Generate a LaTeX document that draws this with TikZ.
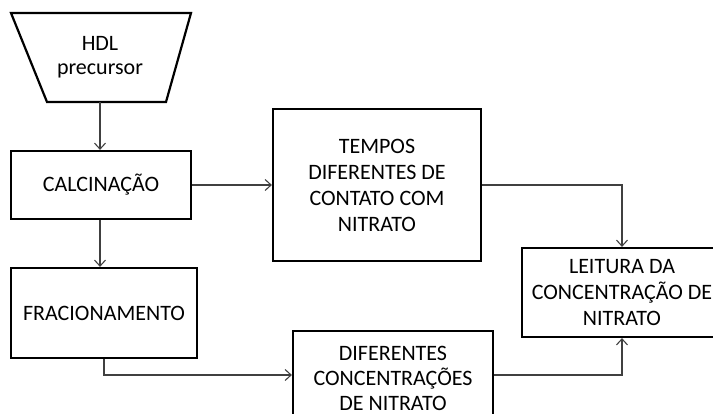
\documentclass[tikz,border=0pt]{standalone}
\usepackage{fontspec}
\setmainfont{Carlito}
\usetikzlibrary{arrows.meta}
\definecolor{conn}{HTML}{404040}
\tikzset{
  box/.style={draw=black, line width=2.2pt, align=center, inner sep=0pt,
    font=\fontsize{22}{26}\selectfont},
  arr/.style={draw=conn, line width=1.1pt, -{Straight Barb[length=6pt,width=11pt,line width=1.1pt]}},
}
\begin{document}
\begin{tikzpicture}[x=1pt,y=-1pt]
\useasboundingbox (0,0) rectangle (713,414);
% trapezoid
\draw[line width=2.2pt, line join=miter] (11,13) -- (191,13) -- (166,102) -- (47,102) -- cycle;
\node[align=center, inner sep=0pt, minimum height=89pt, minimum width=10pt,
  font=\fontsize{22}{24}\selectfont] (hdl) at (100,57.5) {HDL\\precursor};
\node[box, minimum width=180pt, minimum height=68pt] (calc) at (101,185) {CALCINAÇÃO};
\node[box, minimum width=186pt, minimum height=90pt] (frac) at (104,313) {FRACIONAMENTO};
\node[box, minimum width=208pt, minimum height=152pt] (temp) at (377,185) {TEMPOS\\DIFERENTES DE\\CONTATO COM\\NITRATO};
\node[box, minimum width=200pt, minimum height=94pt, font=\fontsize{22}{25}\selectfont] (dif) at (393,378) {DIFERENTES\\CONCENTRAÇÕES\\DE NITRATO};
\node[box, minimum width=200pt, minimum height=89pt] (leit) at (622,292.5) {LEITURA DA\\CONCENTRAÇÃO DE\\NITRATO};
\draw[arr] (hdl.south) -- (calc.north -| hdl.south);
\draw[arr] (calc.east) -- (temp.west);
\draw[arr] ([xshift=-1pt]calc.south) -- ([xshift=-1pt]calc.south |- frac.north);
\draw[arr] (frac.south) |- ([yshift=3pt]dif.west);
\draw[arr] (temp.east) -| (leit.north);
\draw[arr] ([yshift=3pt]dif.east) -| (leit.south);
\end{tikzpicture}
\end{document}
